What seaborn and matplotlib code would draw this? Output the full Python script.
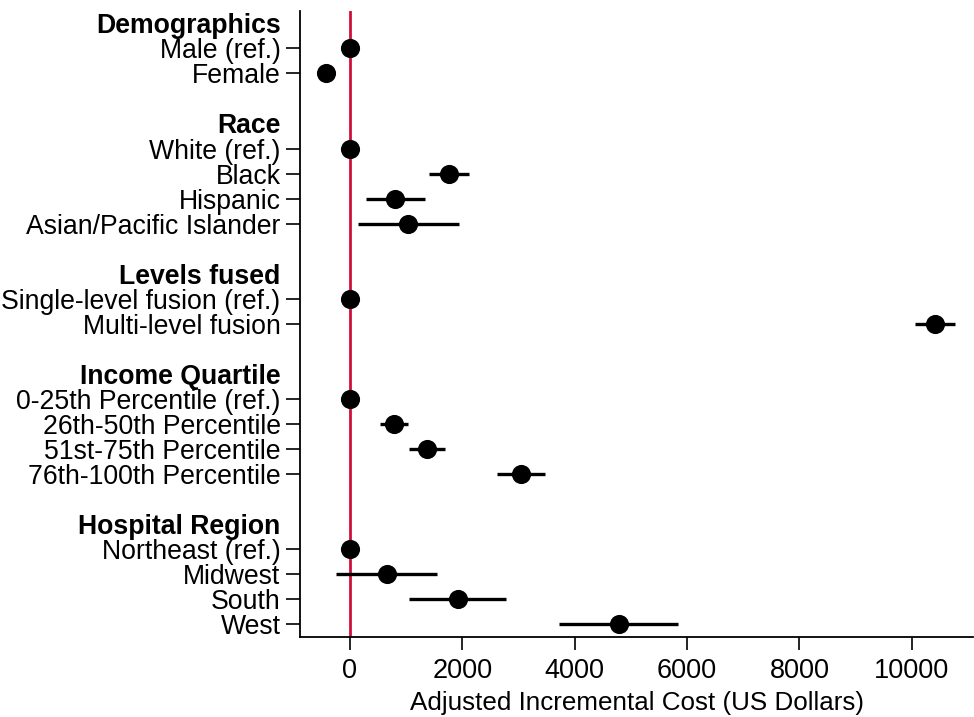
import matplotlib
matplotlib.use("Agg")
import matplotlib.pyplot as plt
import seaborn as sns
import pandas as pd
import numpy as np

sns.set_style("white")
plt.rcParams['font.family'] = ['Liberation Sans', 'DejaVu Sans']
plt.rcParams['text.color'] = 'black'
plt.rcParams['xtick.color'] = 'black'
plt.rcParams['ytick.color'] = 'black'
plt.rcParams['axes.labelcolor'] = 'black'

# Rows in display order (headers have no estimate)
labels = ["Demographics", "Male (ref.)", "Female", "",
          "Race", "White (ref.)", "Black", "Hispanic", "Asian/Pacific Islander", "",
          "Levels fused", "Single-level fusion (ref.)", "Multi-level fusion", "",
          "Income Quartile", "0-25th Percentile (ref.)", "26th-50th Percentile",
          "51st-75th Percentile", "76th-100th Percentile", "",
          "Hospital Region", "Northeast (ref.)", "Midwest", "South", "West"]
headers = ["Demographics", "Race", "Levels fused", "Income Quartile", "Hospital Region"]

est = [None, 0, -432, None,
       None, 0, 1766, 806, 1037, None,
       None, 0, 10418, None,
       None, 0, 782, 1363, 3052, None,
       None, 0, 652, 1926, 4782]
lo = [None, None, None, None,
      None, None, 1410, 284, 148, None,
      None, None, 10057, None,
      None, None, 533, 1049, 2625, None,
      None, None, -249, 1055, 3721]
hi = [None, None, None, None,
      None, None, 2121, 1339, 1932, None,
      None, None, 10773, None,
      None, None, 1037, 1689, 3479, None,
      None, None, 1553, 2785, 5837]

df = pd.DataFrame({"label": labels, "est": est, "lo": lo, "hi": hi})
df["pos"] = np.arange(len(df))
pts = df.dropna(subset=["est"])
ci = df.dropna(subset=["lo"])

fig = plt.figure(figsize=(9.74, 7.17), dpi=100)
ax = fig.add_axes([0.308, 0.1116, 0.691, 0.8734])

ax.axvline(0, color="#D0103A", lw=2, zorder=1)
ax.hlines(ci["pos"], ci["lo"], ci["hi"], color="black", lw=2.4, zorder=2)
sns.scatterplot(data=pts, x="est", y="pos", ax=ax, color="black", s=190,
                edgecolor="black", linewidth=0, zorder=3, legend=False)

ax.set_ylim(len(df) - 0.5, -0.5)
ax.set_xlim(-890, 11090)
ax.set_xticks([0, 2000, 4000, 6000, 8000, 10000])
# major ticks: labels only; minor ticks: marks at item rows
ax.yaxis.remove_overlapping_locs = False
ax.set_yticks(df["pos"])
ax.set_yticklabels(df["label"], fontsize=19.2)
ax.set_yticks(pts["pos"], minor=True)
for lab_obj, lab in zip(ax.get_yticklabels(), labels):
    if lab in headers:
        lab_obj.set_fontweight("bold")

ax.tick_params(axis="x", labelsize=19.5, length=9, width=1.2, direction="out",
               bottom=True, pad=6)
ax.tick_params(axis="y", which="major", length=0, pad=14)
ax.tick_params(axis="y", which="minor", length=10, width=1.2, direction="out",
               left=True, labelleft=False)
ax.set_xlabel("Adjusted Incremental Cost (US Dollars)", fontsize=18.7, labelpad=5)
ax.set_ylabel("")

for s in ["top", "right"]:
    ax.spines[s].set_visible(False)
for s in ["left", "bottom"]:
    ax.spines[s].set_color("black")
    ax.spines[s].set_linewidth(1.3)

fig.savefig("out.png", dpi=100)
